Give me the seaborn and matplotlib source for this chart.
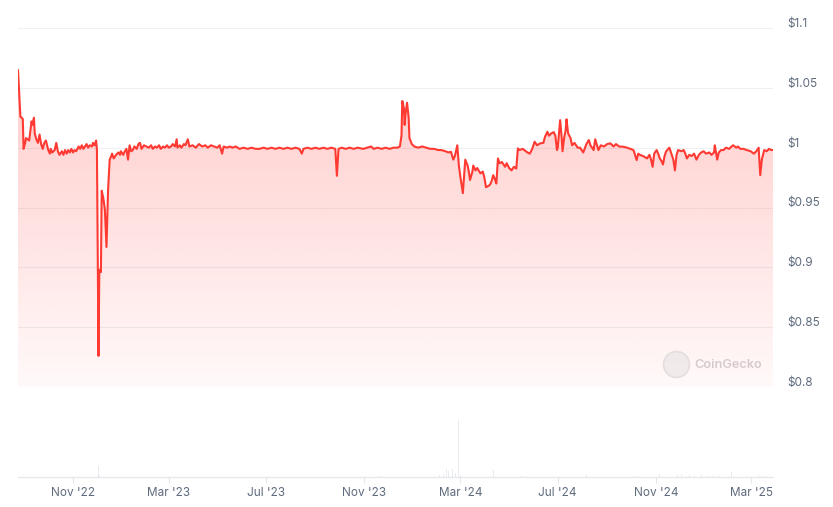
import matplotlib
matplotlib.use('Agg')
import matplotlib.pyplot as plt
import matplotlib.dates as mdates
import matplotlib.transforms as mtransforms
from matplotlib.patches import Circle
import numpy as np
import pandas as pd
import seaborn as sns

# price series
price_dates = [
    '2022-08-24', '2022-08-26', '2022-08-27', '2022-08-30', '2022-08-31', '2022-09-02', '2022-09-03',
    '2022-09-07', '2022-09-10', '2022-09-11', '2022-09-13', '2022-09-14', '2022-09-16', '2022-09-18',
    '2022-09-20', '2022-09-22', '2022-09-24', '2022-09-26', '2022-09-28', '2022-10-01', '2022-10-03',
    '2022-10-04', '2022-10-06', '2022-10-09', '2022-10-11', '2022-10-13', '2022-10-15', '2022-10-18',
    '2022-10-20', '2022-10-22', '2022-10-24', '2022-10-26', '2022-10-28', '2022-10-30', '2022-11-01',
    '2022-11-03', '2022-11-05', '2022-11-08', '2022-11-10', '2022-11-12', '2022-11-14', '2022-11-16',
    '2022-11-18', '2022-11-20', '2022-11-22', '2022-11-25', '2022-11-26', '2022-11-28', '2022-11-30',
    '2022-12-01', '2022-12-03', '2022-12-04', '2022-12-06', '2022-12-07', '2022-12-09', '2022-12-11',
    '2022-12-13', '2022-12-15', '2022-12-17', '2022-12-19', '2022-12-20', '2022-12-22', '2022-12-25',
    '2022-12-28', '2022-12-30', '2022-12-31', '2023-01-03', '2023-01-05', '2023-01-07', '2023-01-09',
    '2023-01-11', '2023-01-13', '2023-01-15', '2023-01-17', '2023-01-20', '2023-01-22', '2023-01-24',
    '2023-01-26', '2023-01-29', '2023-02-01', '2023-02-04', '2023-02-07', '2023-02-09', '2023-02-12',
    '2023-02-14', '2023-02-17', '2023-02-19', '2023-02-22', '2023-02-24', '2023-02-27', '2023-03-01',
    '2023-03-04', '2023-03-06', '2023-03-09', '2023-03-11', '2023-03-12', '2023-03-15', '2023-03-17',
    '2023-03-20', '2023-03-22', '2023-03-25', '2023-03-27', '2023-03-31', '2023-04-04', '2023-04-08',
    '2023-04-12', '2023-04-16', '2023-04-19', '2023-04-23', '2023-04-27', '2023-05-01', '2023-05-04',
    '2023-05-07', '2023-05-09', '2023-05-13', '2023-05-17', '2023-05-20', '2023-05-24', '2023-05-29',
    '2023-06-03', '2023-06-08', '2023-06-13', '2023-06-18', '2023-06-23', '2023-06-28', '2023-07-03',
    '2023-07-08', '2023-07-13', '2023-07-18', '2023-07-23', '2023-07-28', '2023-08-02', '2023-08-07',
    '2023-08-12', '2023-08-15', '2023-08-17', '2023-08-22', '2023-08-27', '2023-09-01', '2023-09-06',
    '2023-09-11', '2023-09-16', '2023-09-21', '2023-09-26', '2023-09-28', '2023-09-30', '2023-10-04',
    '2023-10-09', '2023-10-14', '2023-10-19', '2023-10-24', '2023-10-31', '2023-11-05', '2023-11-10',
    '2023-11-13', '2023-11-18', '2023-11-23', '2023-11-28', '2023-12-03', '2023-12-08', '2023-12-13',
    '2023-12-16', '2023-12-18', '2023-12-19', '2023-12-21', '2023-12-22', '2023-12-23', '2023-12-25',
    '2023-12-27', '2023-12-28', '2023-12-31', '2024-01-03', '2024-01-08', '2024-01-13', '2024-01-18',
    '2024-01-23', '2024-01-28', '2024-02-02', '2024-02-06', '2024-02-11', '2024-02-15', '2024-02-18',
    '2024-02-21', '2024-02-23', '2024-02-26', '2024-02-28', '2024-03-01', '2024-03-04', '2024-03-06',
    '2024-03-07', '2024-03-10', '2024-03-12', '2024-03-13', '2024-03-16', '2024-03-17', '2024-03-20',
    '2024-03-22', '2024-03-26', '2024-03-29', '2024-03-31', '2024-04-02', '2024-04-05', '2024-04-07',
    '2024-04-09', '2024-04-11', '2024-04-13', '2024-04-15', '2024-04-17', '2024-04-19', '2024-04-22',
    '2024-04-26', '2024-04-28', '2024-05-01', '2024-05-04', '2024-05-07', '2024-05-10', '2024-05-12',
    '2024-05-14', '2024-05-18', '2024-05-22', '2024-05-24', '2024-05-27', '2024-05-30', '2024-06-02',
    '2024-06-05', '2024-06-09', '2024-06-13', '2024-06-15', '2024-06-18', '2024-06-20', '2024-06-23',
    '2024-06-26', '2024-06-28', '2024-06-30', '2024-07-01', '2024-07-04', '2024-07-06', '2024-07-07',
    '2024-07-09', '2024-07-11', '2024-07-12', '2024-07-14', '2024-07-17', '2024-07-19', '2024-07-22',
    '2024-07-26', '2024-07-29', '2024-08-02', '2024-08-06', '2024-08-09', '2024-08-11', '2024-08-15',
    '2024-08-17', '2024-08-21', '2024-08-24', '2024-08-28', '2024-09-01', '2024-09-05', '2024-09-09',
    '2024-09-12', '2024-09-16', '2024-09-21', '2024-09-26', '2024-09-30', '2024-10-04', '2024-10-08',
    '2024-10-10', '2024-10-12', '2024-10-16', '2024-10-21', '2024-10-24', '2024-10-26', '2024-10-28',
    '2024-10-30', '2024-11-02', '2024-11-04', '2024-11-06', '2024-11-08', '2024-11-10', '2024-11-12',
    '2024-11-14', '2024-11-18', '2024-11-20', '2024-11-23', '2024-11-25', '2024-11-27', '2024-11-29',
    '2024-12-03', '2024-12-06', '2024-12-08', '2024-12-10', '2024-12-13', '2024-12-16', '2024-12-19',
    '2024-12-22', '2024-12-25', '2024-12-28', '2024-12-31', '2025-01-03', '2025-01-07', '2025-01-10',
    '2025-01-13', '2025-01-14', '2025-01-17', '2025-01-19', '2025-01-22', '2025-01-25', '2025-01-28',
    '2025-02-01', '2025-02-04', '2025-02-06', '2025-02-10', '2025-02-12', '2025-02-15', '2025-02-19',
    '2025-02-23', '2025-02-28', '2025-03-04', '2025-03-07', '2025-03-10', '2025-03-12', '2025-03-14',
    '2025-03-17', '2025-03-20', '2025-03-23', '2025-03-26', '2025-03-28',
]
price_values = [
    1.065, 1.040, 1.026, 1.024, 0.999, 1.004, 1.008,
    1.006, 1.022, 1.019, 1.025, 1.012, 1.007, 1.004,
    1.011, 1.003, 0.999, 1.004, 1.006, 0.998, 0.995,
    0.999, 0.996, 0.998, 1.004, 0.997, 0.994, 0.997,
    0.994, 0.998, 0.995, 0.998, 0.996, 0.999, 0.996,
    0.998, 0.997, 1.001, 0.999, 1.002, 0.999, 1.001,
    1.003, 1.000, 1.002, 1.001, 1.004, 1.002, 1.006,
    0.998, 0.826, 0.898, 0.896, 0.964, 0.958, 0.948,
    0.917, 0.965, 0.990, 0.993, 0.995, 0.991, 0.994,
    0.996, 0.994, 0.997, 0.994, 0.997, 0.999, 0.990,
    1.002, 0.997, 0.998, 1.001, 0.999, 1.003, 1.004,
    0.999, 1.002, 1.001, 1.000, 1.002, 0.999, 1.001,
    1.000, 1.002, 0.999, 1.001, 1.000, 1.002, 1.000,
    1.001, 1.003, 1.001, 1.007, 1.000, 1.002, 1.000,
    1.003, 1.002, 1.007, 1.001, 1.002, 1.000, 1.003,
    1.001, 1.002, 1.000, 1.002, 1.001, 1.000, 1.002,
    0.995, 1.001, 1.000, 1.001, 1.000, 1.001, 0.999,
    1.000, 0.999, 1.000, 0.999, 0.999, 1.000, 0.999,
    1.000, 0.999, 1.000, 0.999, 1.000, 0.999, 1.000,
    0.999, 0.995, 0.999, 1.000, 0.999, 1.000, 0.999,
    1.000, 0.999, 1.000, 0.999, 0.9765, 0.999, 1.000,
    0.999, 1.000, 0.999, 1.000, 0.999, 1.000, 1.001,
    0.999, 1.000, 0.999, 1.000, 0.999, 1.000, 1.000,
    1.001, 1.010, 1.039, 1.033, 1.019, 1.028, 1.0375,
    1.025, 1.008, 1.003, 1.001, 1.000, 1.001, 1.000,
    0.999, 0.999, 0.998, 0.998, 0.997, 0.996, 0.9966,
    0.990, 0.993, 1.002, 0.985, 0.975, 0.962, 0.980,
    0.990, 0.985, 0.978, 0.973, 0.980, 0.985, 0.981,
    0.983, 0.9785, 0.980, 0.975, 0.967, 0.968, 0.969,
    0.972, 0.977, 0.974, 0.970, 0.991, 0.987, 0.988,
    0.984, 0.987, 0.983, 0.981, 0.984, 0.9825, 0.9994,
    0.998, 0.999, 0.997, 0.996, 0.995, 0.999, 1.005,
    1.002, 1.0036, 1.004, 1.009, 1.0133, 1.010, 1.012,
    1.013, 1.010, 0.998, 1.000, 1.023, 1.008, 0.997,
    1.008, 1.015, 1.0237, 1.012, 1.008, 1.002, 1.004,
    1.000, 1.000, 0.996, 1.003, 1.0064, 1.002, 0.998,
    1.007, 0.998, 1.002, 1.001, 1.003, 1.0036, 1.001,
    1.003, 1.001, 1.0008, 1.000, 0.999, 0.998, 0.9896,
    0.995, 0.994, 0.993, 0.991, 0.994, 0.990, 0.984,
    0.995, 0.998, 0.995, 0.991, 0.989, 0.986, 0.993,
    0.997, 1.000, 0.996, 0.990, 0.981, 0.994, 0.998,
    0.997, 0.998, 0.995, 0.991, 0.994, 0.993, 0.995,
    0.990, 0.994, 0.996, 0.997, 0.995, 0.996, 0.994,
    0.996, 1.002, 0.990, 0.996, 0.998, 0.998, 1.000,
    0.999, 1.001, 1.002, 1.000, 1.001, 0.999, 0.999,
    0.998, 0.997, 0.995, 0.997, 1.000, 0.977, 0.990,
    0.998, 0.997, 0.999, 0.998, 0.998,
]

# trading volume (relative units)
volume_dates = [
    '2022-12-03', '2022-12-04', '2023-11-22', '2024-02-04', '2024-02-09', '2024-02-12',
    '2024-02-15', '2024-02-20', '2024-02-24', '2024-02-27', '2024-03-01', '2024-04-02',
    '2024-04-12', '2024-05-15', '2024-08-06', '2024-10-10', '2024-11-06', '2024-11-28',
    '2024-12-03', '2024-12-13', '2024-12-20', '2024-12-28', '2025-01-05', '2025-01-12',
    '2025-01-20', '2025-02-04', '2025-03-10', '2025-03-15', '2025-03-19',
]
volume_values = [
    20, 3, 2, 3, 6, 14,
    10, 14, 7, 100, 3, 4,
    13, 2, 6, 2, 5, 4,
    5, 3, 2, 3, 2, 3,
    2, 8, 3, 2, 2,
]

tick_dates = ['2022-11-01', '2023-03-01', '2023-07-01', '2023-11-01',
              '2024-03-01', '2024-07-01', '2024-11-01', '2025-03-01']
tick_labels = ["Nov '22", "Mar '23", "Jul '23", "Nov '23",
               "Mar '24", "Jul '24", "Nov '24", "Mar '25"]
price_ticks = [0.8, 0.85, 0.9, 0.95, 1.0, 1.05, 1.1]
price_tick_labels = ['$0.8', '$0.85', '$0.9', '$0.95', '$1', '$1.05', '$1.1']

df = pd.DataFrame({'date': pd.to_datetime(price_dates), 'price': price_values})
vol = pd.DataFrame({'date': pd.to_datetime(volume_dates), 'volume': volume_values})

sns.set_theme(style='white')
plt.rcParams['font.family'] = ['Inter', 'DejaVu Sans']

red = '#ff3a33'
grey_txt = '#5f6b7d'
grid_c = '#eef0f3'

fig = plt.figure(figsize=(8.33, 5.07), dpi=100)
W, H = 833, 507
ax = fig.add_axes([18 / W, 1 - 387 / H, 755 / W, 359 / H])
axv = fig.add_axes([18 / W, 1 - 477 / H, 755 / W, 77 / H], sharex=ax)

x0, x1 = pd.Timestamp('2022-08-24'), pd.Timestamp('2025-03-28')

# gradient fill under the line
fill = ax.fill_between(df['date'], df['price'], 0.8, color='none', lw=0)
grad = np.zeros((256, 1, 4))
rgb = matplotlib.colors.to_rgb(red)
grad[:, 0, :3] = rgb
grad[:, 0, 3] = np.linspace(0.24, 0.03, 256)
img = ax.imshow(grad, aspect='auto', origin='upper',
                extent=[mdates.date2num(x0), mdates.date2num(x1), 0.8, 1.045],
                zorder=1)
img.set_clip_path(fill.get_paths()[0], transform=ax.transData)

sns.lineplot(data=df, x='date', y='price', ax=ax, color=red, linewidth=1.5, zorder=3)

ax.set_xlim(x0, x1)
ax.set_ylim(0.8, 1.1)
ax.set_yticks(price_ticks)
ax.set_yticklabels(price_tick_labels)
ax.yaxis.tick_right()
ax.tick_params(axis='y', length=0, pad=10.5, labelsize=8.5, labelcolor=grey_txt)
offset = mtransforms.ScaledTranslation(0, 4 / 72, fig.dpi_scale_trans)
for lab in ax.get_yticklabels():
    lab.set_transform(lab.get_transform() + offset)
ax.grid(axis='y', color=grid_c, linewidth=0.8)
ax.set_axisbelow(True)
ax.set_xlabel('')
ax.set_ylabel('')
for s in ax.spines.values():
    s.set_visible(False)
ax.tick_params(axis='x', bottom=False, labelbottom=False)

# volume panel
axv.bar(vol['date'], vol['volume'], width=1.2, color='#e8ebef', linewidth=0)
axv.set_ylim(0, 135)
axv.set_yticks([])
for s in ['top', 'left', 'right']:
    axv.spines[s].set_visible(False)
axv.spines['bottom'].set_color('#e6e8ec')
axv.spines['bottom'].set_linewidth(1.0)
axv.set_xticks(pd.to_datetime(tick_dates))
axv.set_xticklabels(tick_labels)
axv.tick_params(axis='x', bottom=True, length=4.5, width=0.8, color='#e6e8ec',
                pad=3, labelsize=8.5, labelcolor=grey_txt)
axv.set_xlim(x0, x1)

# CoinGecko watermark
fig.patches.append(Circle((676.5 / 100, (H - 364.5) / 100), 0.13,
                          transform=fig.dpi_scale_trans, facecolor='#ebe5e7',
                          edgecolor='#ddd6d8', lw=1.2, alpha=0.7))
fig.text(694 / W, 1 - 364.5 / H, 'CoinGecko', fontsize=9.2, fontweight='semibold',
         color='#d6cacd', va='center', ha='left')

fig.savefig('out.png', dpi=100)
